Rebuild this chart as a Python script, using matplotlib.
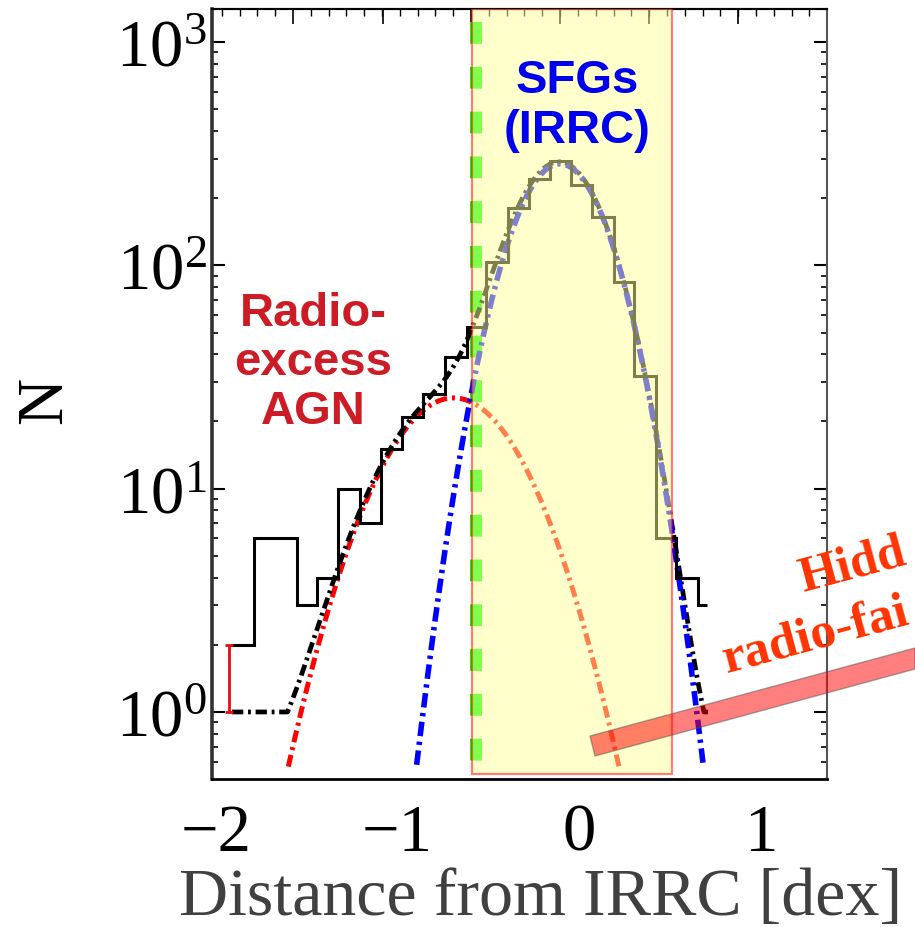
import numpy as np
import matplotlib
matplotlib.use("Agg")
import matplotlib.pyplot as plt
from matplotlib.patches import Polygon

# %%
# Data
# ---------------------------

# histogram of the distance from the IRRC: bin edges [dex] and counts
bin_edges = [-1.917, -1.787, -1.668, -1.550, -1.440, -1.328, -1.205, -1.090,
             -0.972, -0.857, -0.737, -0.618, -0.512, -0.392, -0.275, -0.160,
             -0.044, 0.073, 0.193, 0.304, 0.424, 0.534, 0.657, 0.704]
counts = [2, 6, 6, 3, 4, 10, 7, 15, 21, 26.5, 39, 53, 103, 180, 244, 292,
          229, 165, 84, 32, 6, 4, 3]

# gaussian components of the fit: (peak N, centre [dex], width [dex])
agn_peak, agn_centre, agn_width = 25.5, -0.69, 0.33
sfg_peak, sfg_centre, sfg_width = 285.0, -0.105, 0.224
model_offset = 0.45          # constant added in the total model
model_range = (-1.91, 0.71)  # x range of the total model curve

# upper-limit bar at the left edge
limit_x, limit_lo, limit_hi = -1.925, 1.0, 2.0

# selection limits
sfg_box = (-0.590, 0.512)    # shaded SFG (IRRC) region
agn_cut = -0.567             # green dashed threshold

xtick_values = [-2, -1, 0, 1]
top_major_ticks = [-1.574, -1.079, -0.594, -0.105, 0.385, 0.875]

# the reference crops these two labels at its right edge
hidden_labels = ["Hidd", "radio-fai"]

# %%
# Figure
# ------

plt.rcParams["font.family"] = ["Liberation Serif", "DejaVu Serif"]
plt.rcParams["mathtext.fontset"] = "custom"
plt.rcParams["mathtext.rm"] = "Liberation Serif"

W, H = 915, 928
fig = plt.figure(figsize=(W / 100, H / 100), dpi=100)
ax = fig.add_axes([212 / W, 1 - 780 / H, 615 / W, 770 / H])

ax.set_yscale("log")
ax.set_xlim(-2.02, 1.365)
ax.set_ylim(0.501, 1406)


def gauss(x, peak, centre, width):
    return peak * np.exp(-0.5 * ((x - centre) / width) ** 2)


xx = np.linspace(-2.0, 1.4, 800)
agn = gauss(xx, agn_peak, agn_centre, agn_width)
sfg = gauss(xx, sfg_peak, sfg_centre, sfg_width)
cut = 0.55
agn_plot = np.where(agn > cut, agn, np.nan)
sfg_plot = np.where(sfg > cut, sfg, np.nan)

xt = np.linspace(model_range[0], model_range[1], 600)
total = (gauss(xt, agn_peak, agn_centre, agn_width)
         + gauss(xt, sfg_peak, sfg_centre, sfg_width) + model_offset)
total = np.maximum(total, 1.0)

dd = (2.4, 1.0, 0.6, 1.0)
ax.plot(xx, agn_plot, color="#ff0000", lw=3.6, dashes=dd, zorder=2.6)
ax.plot(xt, total, color="black", lw=3.4, dashes=dd, zorder=2.7)
ax.plot(xx, sfg_plot, color="#0000ff", lw=4.0, dashes=(2.6, 1.0, 0.6, 1.0),
        zorder=2.8)

ax.stairs(counts, bin_edges, baseline=None, color="black", lw=2.2, zorder=3)

ax.errorbar([limit_x], [(limit_lo + limit_hi) / 2],
            yerr=[[(limit_hi - limit_lo) / 2], [(limit_hi - limit_lo) / 2]],
            fmt="none", ecolor="#e01010", elinewidth=2, capsize=3,
            capthick=2, zorder=3)

# green threshold, drawn from the top down
ax.plot([agn_cut, agn_cut], [(780 - 23) / 770, (780 - 770) / 770],
        transform=ax.get_xaxis_transform(), color="#00ff00", lw=8.6,
        dashes=(1.83, 1.92), solid_capstyle="butt", zorder=2)

# translucent SFG box on top of the curves
ax.axvspan(sfg_box[0], sfg_box[1], ymin=5 / 770, ymax=1.0,
           facecolor="#ffff99", alpha=0.5, edgecolor="#ff0000", lw=1.6,
           zorder=4)

# annotations
ax.text((577 - 212) / 615, (780 - 106) / 770, "SFGs\n(IRRC)",
        transform=ax.transAxes, ha="center", va="center", color="#0000ee",
        fontsize=34, fontweight="bold", family="Liberation Sans",
        linespacing=1.15, zorder=6)
ax.text((313 - 212) / 615, (780 - 363) / 770, "Radio-\nexcess\nAGN",
        transform=ax.transAxes, ha="center", va="center", color="#cc1c26",
        fontsize=34, fontweight="bold", family="Liberation Sans",
        linespacing=1.15, zorder=6)

# axes styling
ax.set_xticks(xtick_values)
ax.set_xticklabels([f"{v}".replace("-", "\u2212") for v in xtick_values])
ax.tick_params(axis="x", which="both", length=0, pad=17, labelsize=48)
ax.tick_params(axis="y", which="major", direction="in", length=9.5,
               width=1.5, right=True, labelsize=48, pad=4)
ax.tick_params(axis="y", which="minor", direction="in", length=4.5,
               width=1.2, right=True)

top = ax.secondary_xaxis("top")
top.set_xticks(top_major_ticks)
top.set_xticks(np.arange(-1.966, 1.36, 0.098), minor=True)
top.tick_params(which="major", direction="in", length=11, width=1.2,
                labeltop=False)
top.tick_params(which="minor", direction="in", length=5, width=1.0)
top.spines["top"].set_linewidth(1.5)

for side, col, lw in [("left", "#333333", 2.6), ("bottom", "black", 2.0),
                      ("top", "black", 1.5), ("right", "#555555", 1.5)]:
    ax.spines[side].set_color(col)
    ax.spines[side].set_linewidth(lw)

ax.set_xlabel("Distance from IRRC [dex]", fontsize=49, color="#404040",
              va="baseline")
ax.xaxis.set_label_coords((541 - 212) / 615, (780 - 915) / 770)
ax.set_ylabel("N", fontsize=47, va="center")
ax.yaxis.set_label_coords((45 - 212) / 615, (780 - 400) / 770)

# "hidden radio-faint" band and text, running off the right edge
bar = [(590, 737), (595, 757), (915, 670), (915, 649)]
fig.add_artist(Polygon([(x / W, 1 - y / H) for x, y in bar], closed=True,
                       transform=fig.transFigure, facecolor="#ff0000",
                       alpha=0.5, edgecolor="#555555", lw=1, zorder=6))
for label, (px, py), fs in zip(hidden_labels, [(803, 592), (726, 673)],
                               [36, 37]):
    fig.text(px / W, 1 - py / H, label, rotation=15, rotation_mode="anchor",
             ha="left", va="baseline", color="#ff3300", fontsize=fs,
             fontweight="bold", zorder=7)

fig.savefig("out.png", dpi=100)
